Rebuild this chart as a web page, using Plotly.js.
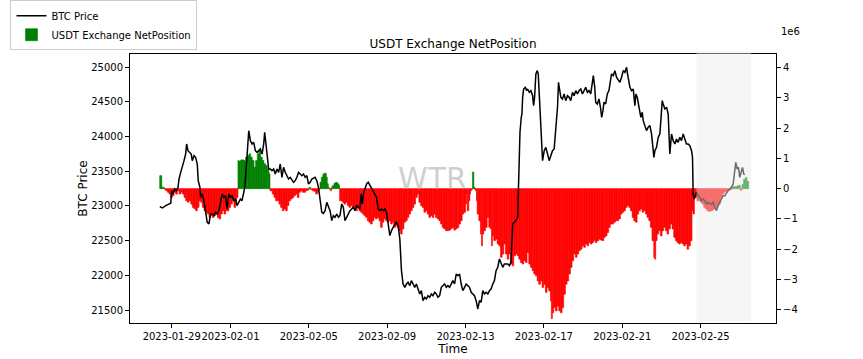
<!DOCTYPE html>
<html>
<head>
<meta charset="utf-8">
<script src="https://cdn.plot.ly/plotly-3.0.1.min.js"></script>
<style>html,body{margin:0;padding:0;background:#fff;}#chart{width:863px;height:359px;}</style>
</head>
<body>
<div id="chart"></div>
<script>
// Hours since 2023-01-29 00:00
const priceHours = [
-14.6,-11.4,-7.3,-3.3,-1.2,0,1.6,3.7,5.7,7.7,9.0,11.0,13.0,15.1,17.1,18.3,19.9,22.4,23.9,25.2,
27.3,29.3,31.3,32.5,34.6,35.4,37.4,39.5,41.5,43.5,45.6,47.6,49.6,51.7,53.7,55.7,57.8,59.8,61.8,63.9,
65.9,67.9,69.9,72.0,74.0,76.1,78.1,80.1,82.1,84.2,86.2,88.3,89.5,91.1,92.3,94.4,96.4,98.4,100.5,102.5,
104.6,106.6,108.6,110.7,112.7,113.9,115.5,116.8,118.8,120.8,122.9,124.9,126.9,129.0,131.0,133.0,135.1,137.1,139.1,141.2,
143.2,145.2,147.3,149.3,151.3,153.4,155.4,157.4,159.5,161.5,163.5,165.6,167.6,169.6,
171.7,175.7,177.8,179.8,181.8,183.9,185.9,187.9,190.0,192.0,194.0,196.1,198.1,200.1,202.2,204.2,206.2,208.3,210.3,212.3,
214.4,216.4,218.4,220.5,222.5,224.5,226.6,228.6,230.6,231.9,233.5,234.7,236.8,238.8,240.8,242.9,244.9,246.9,249.0,251.0,
253.0,255.1,257.1,259.1,261.2,263.2,265.2,267.3,269.3,271.3,273.4,275.4,277.4,279.5,280.7,281.5,283.5,285.6,287.6,289.6,
291.7,293.7,295.7,297.8,299.8,301.8,303.9,305.9,307.9,310.0,312.0,314.0,316.1,318.1,320.1,322.2,324.2,326.2,328.3,330.3,
332.3,334.4,336.4,338.4,340.5,342.5,344.5,346.6,348.6,350.7,352.7,
354.7,356.7,358.8,360.8,362.8,364.9,366.9,368.9,371.0,373.0,375.1,377.1,379.1,381.2,383.2,385.2,387.3,389.3,391.3,393.4,
395.4,397.4,399.5,401.5,403.5,405.6,407.6,409.6,411.7,413.7,415.7,417.8,419.8,421.8,423.9,
425.1,426.7,428.3,429.1,430.0,431.2,433.2,434.9,436.1,438.1,440.1,442.2,
443.4,444.6,446.2,447.9,449.1,450.3,451.6,452.8,454.4,456.4,458.4,460.5,462.5,464.5,466.6,468.6,470.6,472.7,
473.9,475.5,476.8,478.8,480.8,482.8,484.9,486.9,488.9,491.0,493.0,495.1,497.1,499.1,501.2,503.2,505.2,507.3,509.3,511.3,
513.4,515.4,516.6,518.3,519.5,521.5,523.5,525.6,526.8,528.4,529.6,531.7,533.7,535.7,
538.9,541.0,543.0,545.1,547.1,549.1,551.2,553.2,555.3,557.3,
558.5,560.2,561.4,563.4,565.5,567.5,568.7,570.4,571.6,
573.6,574.8,576.5,577.7,579.7,581.8,583.8,585.9,587.9,
589.1,590.8,592.0,594.0,596.1,598.1,599.3,601.0,602.2,
604.2,606.3,608.3,610.3,611.6,612.4,
614.4,616.5,618.5,620.5,622.6,624.6,626.7,628.7,630.7,632.8,634.8,636.9,
638.1,638.9,640.1,641.8,643.0,
645.0,647.1,649.1,651.1,653.2,655.2,657.3,659.3,661.3,663.4,665.4,667.5,669.5,671.5,673.6,675.6,677.7,679.7,681.7,683.8,685.8,687.9,689.9,
691.1,692.8,694.4,696.0,698.1,699.3,700.9,702.1
];
const btcPrice = [
22990,22971,23005,23029,23040,23221,23173,23245,23221,23269,23389,23485,23557,23653,23749,23893,23797,23773,23749,23653,
23725,23701,23605,23365,23269,23125,23173,23077,22933,22765,22741,22885,22885,22861,22909,22885,22933,23077,23173,23125,
23149,22957,23173,23125,23149,23077,23101,23005,23053,23101,23077,23173,23269,23509,23749,24085,23941,23893,23917,23797,
23773,23797,23821,23749,23893,24062,23845,23749,23533,23533,23509,23533,23461,23533,23485,23605,23413,23557,23485,23437,
23389,23413,23365,23341,23365,23413,23485,23461,23437,23461,23413,23437,23317,23341,
23389,23413,23365,23269,23125,22909,22894,22933,23053,22981,22933,22789,22861,22837,22885,22837,22861,23029,22981,22789,
22837,22885,22933,22957,22981,22933,23005,22981,22957,23173,23029,23173,23269,23317,23341,23293,23269,23221,23173,23125,
22957,22933,22957,22933,22957,22909,22741,22573,22645,22693,22741,22765,22717,22525,22309,22068,21876,21828,21876,21900,
21852,21924,21876,21828,21876,21804,21732,21780,21636,21684,21660,21708,21684,21732,21708,21756,21732,21684,21708,21828,
21852,21876,21828,21852,21828,21876,21924,21876,22020,21996,22020,
21876,21780,21828,21876,21852,21828,21756,21732,21708,21636,21516,21636,21612,21780,21732,21756,21732,21780,21804,21876,
21924,22068,22116,22237,22189,22116,22165,22165,22165,22141,22189,22741,22765,22789,22837,
23269,24062,24278,24326,24566,24686,24710,24662,24686,24638,24662,24590,
24446,24566,24902,24950,24902,24566,24422,23989,23653,23797,23845,23749,23653,23725,23797,23821,24085,24422,
24782,24614,24566,24542,24614,24518,24590,24566,24518,24638,24590,24662,24614,24662,24686,24614,24662,24710,24638,24662,
24614,24758,24878,24710,24494,24470,24542,24398,24278,24374,24494,24470,24614,24662,
24902,24878,24950,24854,24806,24782,24854,24950,24926,24998,
24902,24758,24710,24662,24686,24446,24614,24566,24494,
24374,24278,24350,24230,24158,24086,24134,24158,24038,
23893,23701,23797,23845,23989,24038,24230,24518,24470,
24398,24422,24326,23749,23941,24038,
23941,23893,23965,23917,23989,23941,24038,23965,23893,23893,23869,23797,
23701,23173,23101,23149,23197,
23149,23125,23077,23101,23077,23029,23053,23029,23029,23053,22981,22933,23005,23053,23125,23149,23149,23197,23221,23245,23269,23317,23509,
23629,23533,23557,23413,23485,23557,23461,23451
];

// USDT exchange net position, in units of 1e6, at hours since 2023-01-29 00:00
const netHours = [
-14.7,-13.5,-12.2,-10.2,-8.6,-7.3,-5.3,-3.3,-1.2,0.8,2.9,4.9,6.9,9.0,11.0,13.1,15.1,17.1,19.2,21.2,
23.3,25.3,27.3,29.4,31.4,33.5,35.5,37.5,39.6,41.6,43.7,45.7,47.7,49.8,51.8,53.9,55.9,57.9,60.0,62.0,
64.1,66.1,68.1,70.2,72.2,74.3,76.3,78.3,79.6,81.2,82.4,84.5,86.5,88.5,90.6,92.6,94.7,96.7,98.7,100.8,
102.8,104.9,106.9,108.9,111.0,113.0,115.1,117.1,119.1,120.4,121.2,123.2,125.3,127.3,129.3,131.4,133.4,135.5,137.5,139.5,
141.6,143.6,145.7,147.7,149.7,151.8,153.8,155.9,157.9,159.9,162.0,164.0,166.1,168.1,
170.2,172.3,174.3,176.4,178.4,180.4,181.7,183.3,185.3,187.4,189.4,190.6,191.9,193.5,194.7,195.9,196.8,198.8,200.8,202.9,
204.9,205.7,207.0,209.0,211.0,213.1,215.1,217.2,219.2,221.2,223.3,225.3,227.4,229.4,231.4,233.5,235.5,237.6,239.6,241.6,
243.7,245.7,247.8,249.8,251.8,253.9,255.9,258.0,260.0,262.0,264.1,266.1,268.2,270.2,272.2,274.3,276.3,278.4,280.4,282.4,
284.5,286.5,288.6,290.6,292.6,294.7,296.7,298.8,300.8,302.8,304.9,306.9,309.0,311.0,313.0,315.1,317.1,319.2,321.2,323.2,
325.3,327.3,329.4,331.4,333.4,335.5,337.5,339.6,341.6,343.6,345.7,347.7,349.8,351.8,353.8,
355.9,357.9,360.0,361.2,362.0,364.0,365.3,366.1,367.3,368.5,370.2,371.4,372.2,373.4,374.2,376.3,378.3,379.5,380.8,382.4,
384.4,386.5,388.5,390.6,391.8,393.0,394.6,396.7,398.7,400.8,402.8,404.8,406.9,408.9,411.0,413.0,415.0,417.1,419.1,421.2,
423.2,425.2,427.3,429.3,431.4,433.4,435.4,437.5,439.5,441.6,443.6,445.6,447.7,449.7,451.8,453.8,455.8,457.9,459.9,462.0,
464.0,465.2,466.4,468.1,470.1,472.2,474.2,476.2,478.3,480.3,482.4,484.4,486.4,488.5,490.5,492.6,494.6,496.6,498.7,500.7,
502.8,504.8,506.8,508.9,510.9,513.0,515.0,517.0,519.1,521.1,523.2,525.2,527.2,529.3,531.3,533.4,535.4,537.4,
539.6,541.6,543.7,545.7,547.7,549.8,551.8,553.9,555.9,557.9,560.0,562.0,564.1,566.1,568.1,570.2,572.2,574.3,576.3,578.3,
580.4,582.4,584.5,586.5,588.5,590.6,591.8,593.0,594.7,596.7,598.7,600.8,602.8,604.9,606.9,608.9,611.0,613.0,615.1,617.1,
619.1,621.2,623.2,625.3,627.3,629.3,631.4,633.4,635.5,637.5,638.7,640.4,641.6,643.6,645.7,647.7,649.7,651.8,653.8,655.9,
657.9,659.9,662.0,664.0,666.1,668.1,670.1,672.2,674.2,676.3,678.3,680.3,682.4,684.4,686.5,688.5,690.5,692.6,694.6,696.7,
698.7,700.7,702.8,704.8
];
const netPositionMillions = [
0.43,0.43,0.05,0.03,-0.03,-0.07,-0.12,-0.18,-0.29,-0.23,-0.12,-0.18,-0.07,-0.18,-0.12,-0.18,-0.29,-0.40,-0.45,-0.40,
-0.51,-0.62,-0.67,-0.73,-0.62,-0.40,-0.45,-0.62,-0.73,-0.78,-0.84,-0.95,-0.89,-0.95,-0.89,-0.84,-0.95,-1.00,-0.84,-0.73,
-0.84,-0.73,-0.73,-0.62,-0.51,-0.40,-0.62,-0.51,-0.29,0.93,0.91,0.95,0.95,0.93,1.04,1.09,1.15,1.04,0.93,0.71,
0.93,1.15,1.26,1.04,0.93,0.82,0.76,0.65,0.49,-0.07,-0.07,-0.18,-0.29,-0.40,-0.40,-0.51,-0.62,-0.73,-0.67,-0.73,
-0.56,-0.40,-0.34,-0.29,-0.23,-0.18,-0.29,-0.12,-0.07,-0.12,-0.12,-0.07,-0.05,0.04,
-0.03,-0.07,-0.09,-0.18,-0.12,-0.03,0.21,0.38,0.49,0.51,0.38,0.16,0.03,-0.03,-0.07,0.05,0.10,0.18,0.21,0.16,
0.10,-0.40,-0.40,-0.45,-0.51,-0.45,-0.56,-0.62,-0.56,-0.62,-0.67,-0.73,-0.62,-0.73,-0.78,-0.84,-0.89,-0.95,-1.06,-1.11,
-1.17,-1.06,-0.95,-1.00,-0.95,-1.06,-1.28,-1.11,-1.00,-1.06,-1.11,-1.06,-1.17,-1.11,-1.28,-1.22,-1.28,-1.39,-1.50,-1.33,
-1.11,-1.06,-0.95,-0.84,-0.73,-0.62,-0.51,-0.29,-0.18,-0.45,-0.56,-0.62,-0.78,-0.73,-0.84,-0.95,-0.89,-0.95,-0.84,-0.95,
-1.00,-1.06,-1.17,-1.28,-1.33,-1.39,-1.39,-1.37,-1.33,-1.28,-1.37,-1.33,-1.28,-1.17,-1.06,
-0.84,-0.78,-0.51,-0.18,-0.73,-0.40,-0.18,-0.07,-0.03,0.55,0.05,-0.03,-0.07,-0.40,-0.84,-1.06,-1.50,-1.89,-1.50,-1.39,
-1.28,-0.95,-1.28,-1.33,-1.89,-1.56,-1.72,-1.67,-1.83,-1.89,-2.27,-2.16,-1.83,-2.16,-2.33,-2.16,-2.49,-2.55,-2.22,-2.16,
-2.22,-2.33,-2.44,-2.49,-2.38,-2.44,-2.11,-2.49,-2.60,-2.71,-2.82,-2.88,-3.05,-3.16,-3.05,-3.27,-3.16,-3.43,-3.27,-3.38,
-3.71,-4.30,-4.10,-3.93,-4.04,-3.88,-4.04,-4.10,-3.93,-3.49,-3.16,-3.05,-2.82,-2.60,-2.38,-2.16,-2.27,-2.16,-2.05,-2.00,
-1.89,-1.94,-1.83,-1.89,-1.78,-1.83,-1.78,-1.72,-1.78,-1.72,-1.67,-1.70,-1.72,-1.61,-1.56,-1.45,-1.28,-1.17,
-1.17,-1.11,-1.06,-1.06,-1.00,-0.84,-0.78,-0.73,-0.62,-0.56,-0.62,-0.73,-0.95,-1.06,-1.11,-0.84,-0.73,-0.67,-0.78,-0.73,
-0.84,-0.95,-1.06,-1.28,-1.72,-2.27,-2.33,-1.72,-1.50,-1.39,-1.56,-1.39,-1.28,-1.39,-1.50,-1.33,-1.17,-1.33,-1.61,-1.72,
-1.78,-1.83,-1.78,-1.83,-1.89,-1.83,-2.00,-1.89,-1.72,-0.73,-0.84,-0.20,-0.29,-0.40,-0.40,-0.45,-0.51,-0.62,-0.67,-0.73,
-0.75,-0.73,-0.71,-0.67,-0.62,-0.56,-0.51,-0.29,-0.18,-0.12,-0.09,-0.07,-0.05,-0.02,0.06,0.06,0.07,0.09,0.11,-0.05,
0.14,0.31,0.37,0.25
];

const xTickDates = ['2023-01-29','2023-02-01','2023-02-05','2023-02-09','2023-02-13','2023-02-17','2023-02-21','2023-02-25'];
const xTickLabels = ['2023-01-29','2023-02-01','2023-02-05','2023-02-09','2023-02-13','2023-02-17','2023-02-21','2023-02-25'];
const priceTicks = [21500,22000,22500,23000,23500,24000,24500,25000];
const netTicks = [-4,-3,-2,-1,0,1,2,3,4];
const maskStartHour = 642.9, maskEndHour = 709.9;   // greyed-out (unconfirmed) window
const xRangeHours = [-51.1, 740.4];

const BASE = Date.UTC(2023, 0, 29);
function hToStr(h) { return new Date(BASE + h * 3600e3).toISOString().replace('T', ' ').slice(0, 19); }

const posX = [], posY = [], posW = [], negX = [], negY = [], negW = [];
for (let i = 0; i < netHours.length; i++) {
  const w = ((i < netHours.length - 1) ? (netHours[i + 1] - netHours[i]) : 2) * 3600e3;
  const v = netPositionMillions[i];
  if (v >= 0) { posX.push(hToStr(netHours[i])); posY.push(v); posW.push(w); }
  else { negX.push(hToStr(netHours[i])); negY.push(v); negW.push(w); }
}

const traces = [
  { type: 'bar', x: negX, y: negY, width: negW, offset: 0, yaxis: 'y', xaxis: 'x',
    marker: { color: '#ff0000', line: { width: 0.6, color: '#ff0000' } }, showlegend: false, hoverinfo: 'skip' },
  { type: 'bar', x: posX, y: posY, width: posW, offset: 0, yaxis: 'y', xaxis: 'x',
    marker: { color: '#008000', line: { width: 0.6, color: '#008000' } }, name: 'USDT Exchange NetPosition', legendrank: 2 },
  { type: 'scatter', mode: 'lines', x: priceHours.map(hToStr), y: btcPrice, yaxis: 'y2', xaxis: 'x',
    line: { color: '#000000', width: 1.5 }, name: 'BTC Price', legendrank: 1 }
];

const layout = {
  width: 863, height: 359,
  margin: { l: 130, r: 87, t: 54, b: 36, pad: 0, autoexpand: false },
  paper_bgcolor: '#ffffff', plot_bgcolor: '#ffffff',
  font: { family: 'DejaVu Sans, sans-serif', size: 10, color: '#000000' },
  barmode: 'overlay',
  title: { text: 'USDT Exchange NetPosition', font: { size: 12, color: '#000000' },
           x: 0.5, xref: 'paper', xanchor: 'center', y: (359 - 44) / 359, yref: 'container', yanchor: 'middle' },
  showlegend: true,
  legend: { x: -0.185, y: 1.2, xanchor: 'left', yanchor: 'top', bgcolor: '#ffffff',
            bordercolor: '#cccccc', borderwidth: 1, font: { size: 10 }, traceorder: 'normal', tracegroupgap: 0 },
  xaxis: { type: 'date', range: xRangeHours.map(hToStr), tickvals: xTickDates, ticktext: xTickLabels, tickangle: 0,
           ticks: 'outside', ticklen: 4, tickcolor: '#000', showline: true, linecolor: '#000', linewidth: 1,
           mirror: true, showgrid: false, zeroline: false, title: { text: 'Time', standoff: 0 } },
  xaxis2: { type: 'date', overlaying: 'x', side: 'top', anchor: 'y', range: xRangeHours.map(hToStr),
            tickvals: xTickDates, ticks: 'inside', ticklen: 4, tickcolor: '#000', showticklabels: false,
            showline: false, showgrid: false, zeroline: false },
  yaxis: { side: 'right', range: [-4.44, 4.45], tickvals: netTicks, ticks: 'outside', ticklen: 4, tickcolor: '#000',
           showline: true, linecolor: '#000', linewidth: 1, showgrid: false, zeroline: false },
  yaxis2: { overlaying: 'y', side: 'left', range: [21314, 25190], tickvals: priceTicks, tickformat: 'd',
            ticks: 'outside', ticklen: 4, tickcolor: '#000', showline: true, linecolor: '#000', linewidth: 1,
            showgrid: false, zeroline: false, title: { text: 'BTC Price', standoff: 0 } },
  shapes: [
    { type: 'rect', xref: 'x', yref: 'paper', x0: hToStr(maskStartHour), x1: hToStr(maskEndHour), y0: 0.005, y1: 1.01,
      fillcolor: 'rgba(236,236,236,0.45)', line: { width: 0 }, layer: 'above' }
  ],
  annotations: [
    { text: 'WTR', xref: 'paper', yref: 'paper', x: 0.4675, y: 0.539, xanchor: 'center', yanchor: 'middle',
      showarrow: false, font: { size: 30, color: 'rgba(160,160,160,0.5)' } },
    { text: '1e6', xref: 'paper', yref: 'paper', x: 1.0046, y: 1.082, xanchor: 'left', yanchor: 'middle',
      showarrow: false, font: { size: 10, color: '#000' } }
  ]
};

Plotly.newPlot('chart', traces, layout, { displayModeBar: false, staticPlot: true });
</script>
</body>
</html>
